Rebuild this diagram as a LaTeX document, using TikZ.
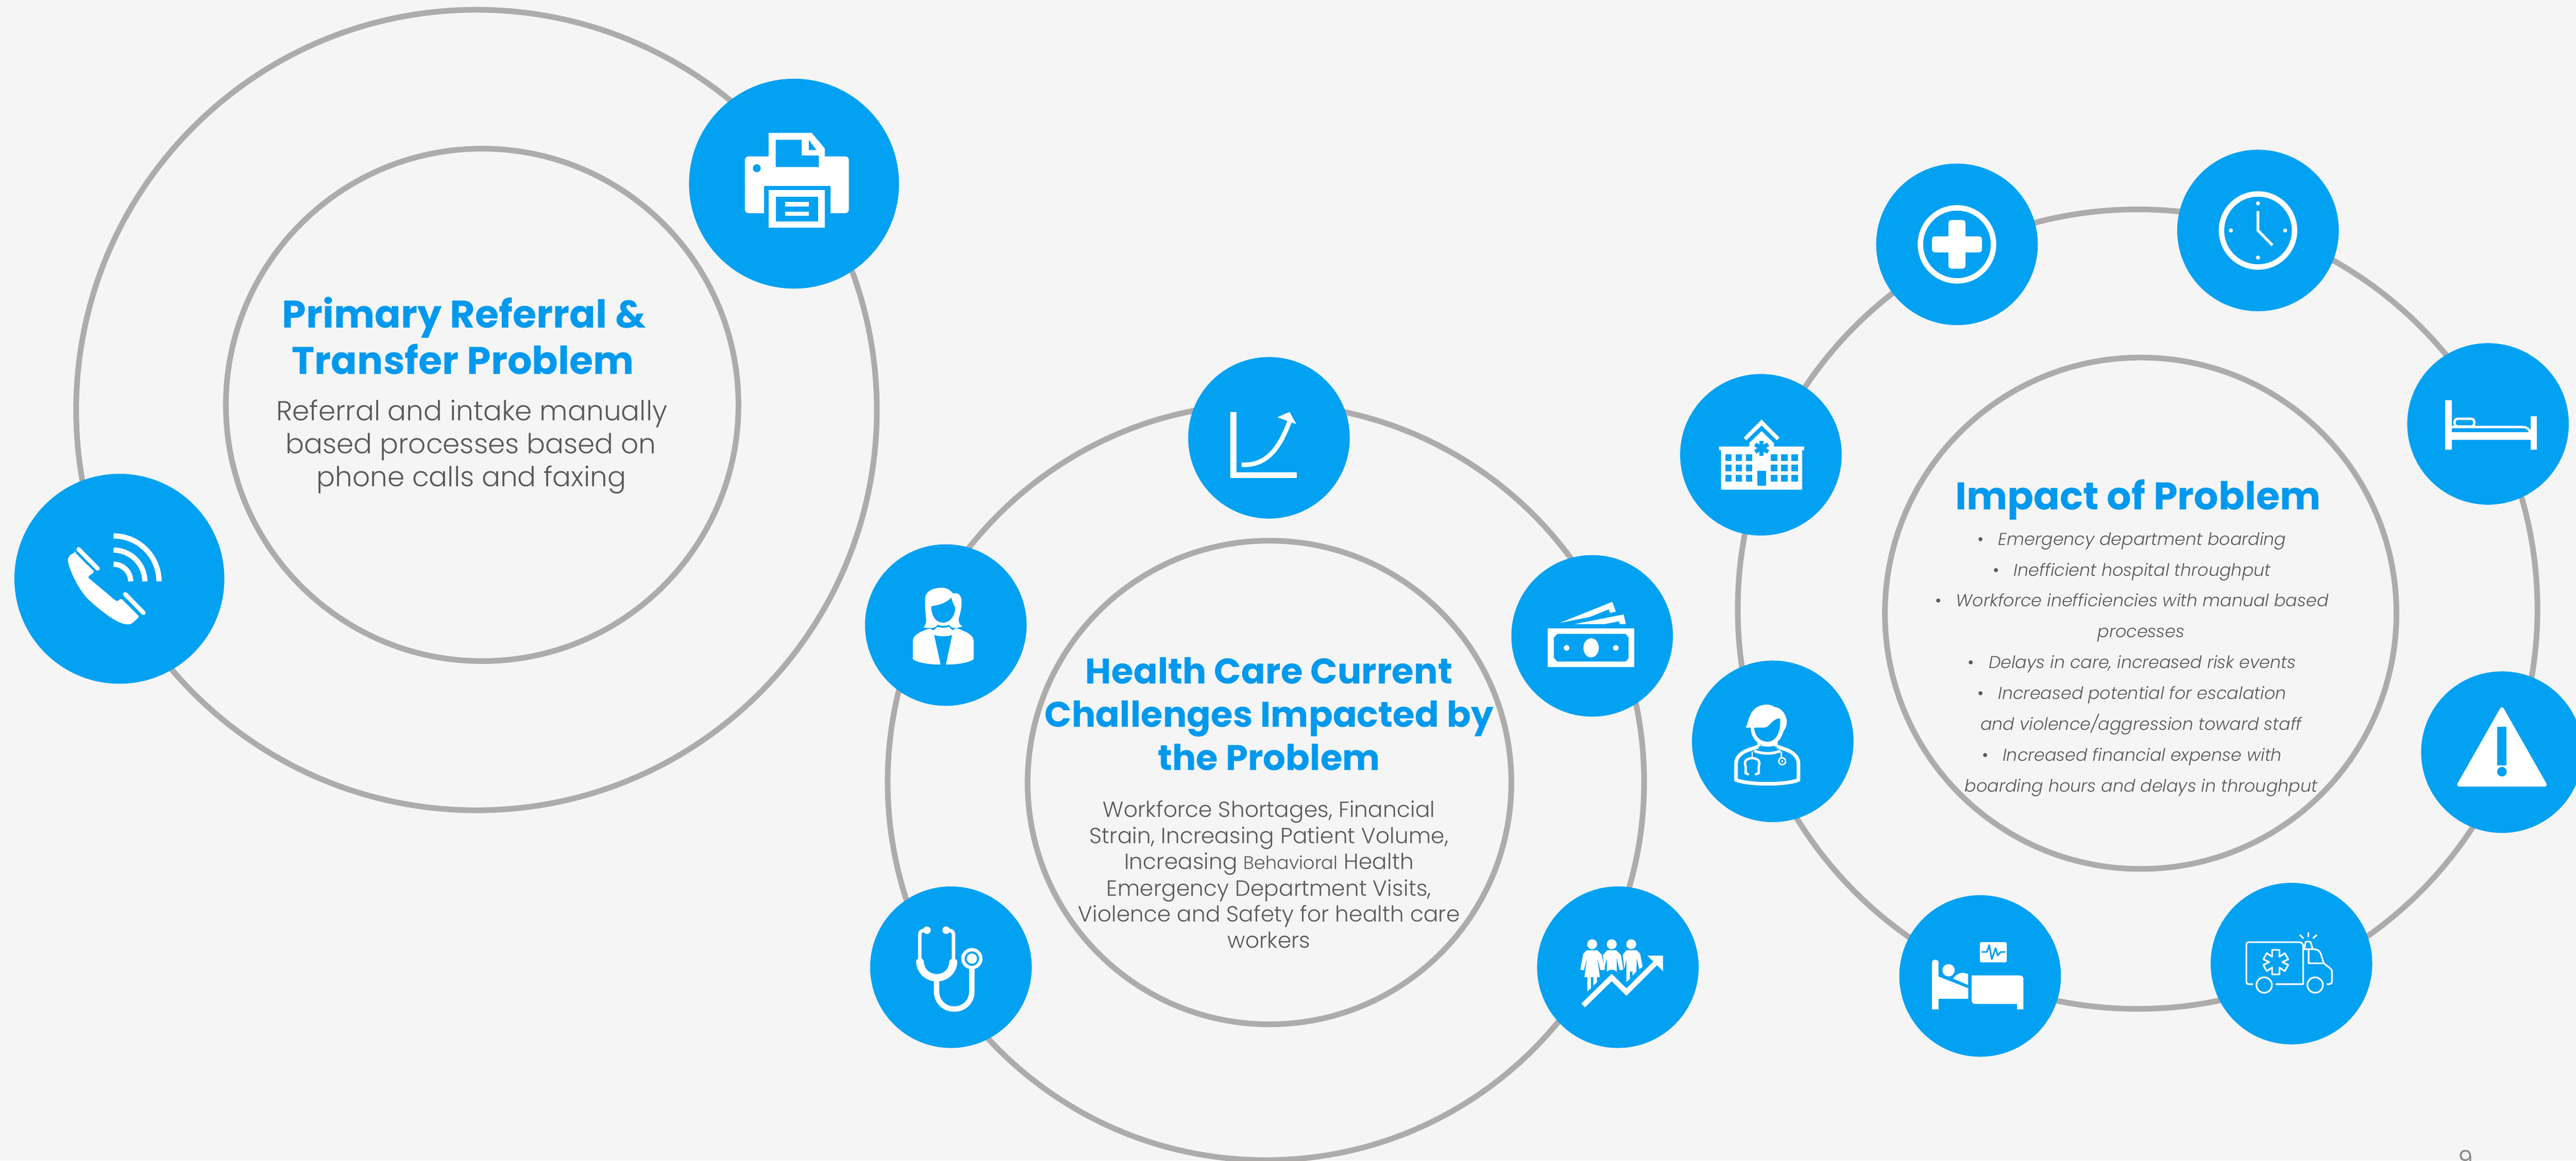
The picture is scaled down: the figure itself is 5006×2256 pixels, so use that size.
\documentclass[tikz,border=0pt]{standalone}
\usepackage{fontspec}
\setmainfont{Poppins Light}[ItalicFont={Poppins Light Italic},BoldFont={Poppins Bold}]
\newfontfamily\popreg{Poppins}
\definecolor{bgc}{HTML}{F5F5F5}
\definecolor{ib}{HTML}{03A1F2}
\definecolor{hb}{HTML}{0099EE}
\definecolor{rg}{HTML}{ADACAB}
\definecolor{tx}{HTML}{595959}
\tikzset{
 ringc/.style={circle,draw=rg,line width=1.1mm,inner sep=0pt,outer sep=0pt,minimum size=#1},
 diskc/.style={circle,fill=ib,inner sep=0pt,outer sep=0pt,minimum size=#1},
 iconat/.style 2 args={shift={(#1,#2)},x=0.033333mm,y=-0.033333mm,shift={(-480,-480)}},
 hone/.style={anchor=base,inner sep=0pt,text=hb,font=\fontsize{21.3}{25}\selectfont\bfseries},
 htwo/.style={anchor=base,inner sep=0pt,text=hb,font=\fontsize{19.7}{25}\selectfont\bfseries},
 bone/.style={anchor=base,inner sep=0pt,text=tx,font=\fontsize{15.2}{20}\selectfont},
 btwo/.style={anchor=base,inner sep=0pt,text=tx,font=\fontsize{12.1}{18}\selectfont},
 bthr/.style={anchor=base,inner sep=0pt,text=tx,font=\fontsize{9.5}{14}\selectfont\itshape},
}
\newcommand{\bul}{{\upshape •}\hspace{2.8mm}}
\begin{document}
\begin{tikzpicture}[x=0.1mm,y=-0.1mm]
\useasboundingbox (0,0) rectangle (5006,2256);
\clip (0,0) rectangle (5006,2256);
\fill[bgc] (0,0) rectangle (5006,2256);
% rings
\node[ringc=155.6mm] (r1o) at (926,797) {};
\node[ringc=99.6mm] (r1i) at (937,787) {};
\node[ringc=147mm] (r2o) at (2460,1520) {};
\node[ringc=94mm] (r2i) at (2467,1521) {};
\node[ringc=155.4mm] (r3o) at (4154,1184) {};
\node[ringc=99.4mm] (r3i) at (4160,1192) {};
% disks
\node[diskc=40.8mm] (printer) at (1543,357) {};
\node[diskc=40.8mm] (phone) at (232,1125) {};
\node[diskc=31.4mm] (chart) at (2466,851) {};
\node[diskc=31.4mm] (woman) at (1838,1215) {};
\node[diskc=31.4mm] (money) at (3094,1236) {};
\node[diskc=31.4mm] (steth) at (1848,1880) {};
\node[diskc=31.4mm] (people) at (3144,1880) {};
\node[diskc=31.4mm] (plus) at (3803,475) {};
\node[diskc=31.4mm] (clock) at (4388,448) {};
\node[diskc=31.4mm] (bed) at (4835,824) {};
\node[diskc=31.4mm] (warn) at (4862,1462) {};
\node[diskc=31.4mm] (amb) at (4453,1873) {};
\node[diskc=31.4mm] (patient) at (3848,1897) {};
\node[diskc=31.4mm] (doctor) at (3445,1441) {};
\node[diskc=31.4mm] (hospital) at (3422,884) {};
% printer
\begin{scope}[iconat={1543}{357}]
\fill[white,rounded corners=2pt] (194,321) rectangle (800,652);
\fill[white] (332,184) -- (583,184) -- (659,274) -- (659,383) -- (332,383) -- cycle;
\fill[ib] (373,224) -- (525,224) -- (525,316) -- (625,316) -- (625,383) -- (373,383) -- cycle;
\fill[ib] (566,224) -- (566,284) -- (611,284) -- cycle;
\fill[ib] (263,390) circle[radius=23];
\fill[ib] (304,492) rectangle (694,660);
\fill[white] (332,517) rectangle (659,736);
\fill[ib] (373,557) rectangle (621,701);
\fill[white] (428,587) rectangle (566,612);
\fill[white] (428,642) rectangle (566,667);
\end{scope}
% phone
\begin{scope}[iconat={232}{1125}]
\fill[white,rounded corners=1pt] (222,328) -- (335,440) -- (294,470) -- (466,614) -- (490,594) -- (597,701) -- (549,744) .. controls (500,750) and (439,726) .. (301,602) .. controls (250,550) and (198,453) .. (180,378) .. controls (180,350) and (200,335) .. cycle;
\draw[white,line width=2.4pt,line cap=round] (242,308) -- (353,420);
\draw[white,line width=2.4pt,line cap=round] (514,570) -- (621,679);
\foreach \R in {100,182,265}{
 \draw[white,line width=2.9pt] (446,495-\R) .. controls (446+.55*\R,495-\R) and (446+\R,495-.55*\R) .. (446+\R,495);
}
\end{scope}
% chart
\begin{scope}[iconat={2466}{851}]
\draw[white,line width=3.3pt] (272,329) -- (272,698) -- (643,698);
\draw[white,line width=2.5pt] (321,637) .. controls (486,646) and (552,508) .. (600,385);
\fill[white] (600,329) -- (639,400) -- (529,360) -- cycle;
\end{scope}
% woman
\begin{scope}[iconat={1838}{1215}]
\fill[white] (360,320) .. controls (365,275) and (420,262) .. (455,262) .. controls (490,262) and (510,280) .. (522,296) .. controls (540,290) and (570,295) .. (572,340) .. controls (574,385) and (558,430) .. (555,445) .. controls (555,470) and (565,483) .. (578,488) .. controls (560,495) and (545,495) .. (530,497) .. controls (515,495) and (505,490) .. (500,478) .. controls (480,486) and (450,486) .. (432,478) .. controls (425,490) and (410,497) .. (395,497) -- (350,495) .. controls (362,480) and (368,465) .. (365,440) .. controls (360,400) and (358,360) .. (360,320) -- cycle;
\fill[ib] (395,370) .. controls (440,365) and (485,350) .. (512,320) .. controls (518,345) and (525,360) .. (535,378) .. controls (535,430) and (500,466) .. (465,466) .. controls (425,466) and (395,430) .. (395,370) -- cycle;
\fill[white] (288,570) .. controls (290,535) and (340,515) .. (385,500) .. controls (395,505) and (400,508) .. (408,510) .. controls (418,505) and (425,498) .. (430,490) .. controls (450,497) and (480,497) .. (498,490) .. controls (503,498) and (512,505) .. (522,510) -- (540,497) .. controls (590,515) and (640,535) .. (642,570) -- (642,680) .. controls (600,705) and (530,710) .. (480,710) -- (450,710) .. controls (380,710) and (320,700) .. (288,680) -- cycle;
\fill[ib] (412,538) .. controls (440,548) and (490,548) .. (517,538) -- (480,712) -- (450,712) -- cycle;
\end{scope}
% money
\begin{scope}[iconat={3094}{1236}]
\fill[white] (222,436) rectangle (726,663);
\fill[ib] (278,468) -- (674,468) -- (692,488) -- (692,612) -- (674,630) -- (278,630) -- (257,608) -- (257,490) -- cycle;
\fill[white] (474,550) ellipse[x radius=45,y radius=56];
\fill[white] (331,550) circle[radius=17];
\fill[white] (618,550) circle[radius=17];
\fill[white] (292,404) -- (597,282) -- (618,338) -- (585,346) -- (577,325) -- (465,370) -- cycle;
\fill[white] (378,411) -- (664,355) -- (676,411) -- (642,411) -- (637,395) -- (555,411) -- cycle;
\end{scope}
% people
\begin{scope}[iconat={3144}{1880}]
\fill[white] (330,346) circle[radius=29];
\fill[white] (444,346) circle[radius=29];
\fill[white] (558,346) circle[radius=29];
\fill[white] (262,490) -- (278,402) -- (300,381) -- (360,381) -- (384,405) -- (405,490) -- (398,497) -- (378,497) -- (360,425) -- (375,538) -- (358,538) -- (358,568) -- (337,587) -- (337,538) -- (323,538) -- (323,603) -- (302,622) -- (302,538) -- (285,538) -- (300,425) -- (282,497) -- (266,497) -- cycle;
\fill[white] (392,410) -- (418,381) -- (470,381) -- (497,408) -- (512,490) -- (505,497) -- (490,497) -- (473,425) -- (474,508) .. controls (460,490) and (428,490) .. (415,508) -- (416,425) -- (400,490) -- (396,440) -- cycle;
\fill[white] (508,408) -- (530,381) -- (590,381) -- (610,402) -- (624,478) -- (605,492) -- (590,428) -- (588,505) -- (565,530) -- (565,505) -- (550,505) -- (550,547) -- (530,567) -- (530,430) -- (518,490) -- cycle;
\draw[white,line width=2.9pt] (278,703) -- (444,540) -- (530,625) -- (700,455);
\fill[white] (653,413) -- (743,413) -- (743,503) -- cycle;
\end{scope}
% stethoscope
\begin{scope}[iconat={1848}{1880}]
\draw[white,line width=1.9pt] (298,440) -- (298,290) .. controls (298,272) and (310,265) .. (330,264);
\draw[white,line width=1.9pt] (495,440) -- (495,290) .. controls (495,272) and (483,265) .. (460,264);
\fill[white] (340,264) circle[radius=22];
\fill[white] (452,264) circle[radius=22];
\fill[white] (277,445) .. controls (280,425) and (315,420) .. (322,445) .. controls (322,490) and (355,520) .. (397,520) .. controls (440,520) and (470,490) .. (470,445) .. controls (480,422) and (510,425) .. (517,445) .. controls (517,510) and (465,563) .. (397,563) .. controls (330,563) and (277,510) .. (277,445) -- cycle;
\draw[white,line width=3pt] (396,550) -- (396,620) .. controls (396,680) and (440,724) .. (499,724) .. controls (558,724) and (602,680) .. (602,620) -- (602,480);
\fill[white] (602,430) circle[radius=62];
\fill[ib] (602,430) circle[radius=42];
\fill[white] (602,430) circle[radius=30];
\end{scope}
% hospital
\begin{scope}[iconat={3422}{884}]
\fill[white] (380,380) -- (484,275) -- (588,380) -- (573,395) -- (484,309) -- (395,395) -- cycle;
\fill[white] (412,412) -- (484,342) -- (556,412) -- (556,432) -- (732,432) -- (732,453) -- (720,453) -- (720,683) -- (248,683) -- (248,453) -- (236,453) -- (236,432) -- (412,432) -- cycle;
\foreach \cx in {272,332,392,537,598,658}{\foreach \cy in {477,537,597}{
 \fill[ib] (\cx,\cy) rectangle (\cx+38,\cy+39);}}
\fill[ib] (458,573) rectangle (510,660);
\foreach \a in {0,60,120}{\fill[ib,rotate around={\a:(484,441)}] (472,398) rectangle (496,485);}
\end{scope}
% doctor
\begin{scope}[iconat={3445}{1441}]
\fill[white] (322,400) .. controls (340,370) and (340,300) .. (400,275) .. controls (430,262) and (470,262) .. (490,280) .. controls (530,280) and (565,330) .. (562,375) .. controls (560,395) and (550,410) .. (543,420) .. controls (535,450) and (520,470) .. (508,483) -- (510,510) -- (390,510) -- (390,485) .. controls (370,470) and (352,440) .. (352,400) -- cycle;
\fill[ib] (372,400) -- (430,400) .. controls (465,400) and (475,345) .. (522,347) .. controls (530,420) and (500,482) .. (450,482) .. controls (400,482) and (372,440) .. (372,400) -- cycle;
\fill[ib] (408,498) .. controls (440,505) and (465,505) .. (490,498) -- (490,525) -- (408,525) -- cycle;
\draw[white,line width=1.5pt] (412,497) .. controls (440,505) and (465,505) .. (488,497);
\draw[white,line width=2pt,line join=round] (396,510) -- (330,533) .. controls (285,552) and (266,580) .. (266,610) -- (266,705) .. controls (340,735) and (560,735) .. (630,705) -- (630,610) .. controls (630,580) and (610,552) .. (570,533) -- (505,510);
\draw[white,line width=1.5pt] (372,535) .. controls (420,555) and (480,555) .. (525,535);
\draw[white,line width=.7pt] (360,540) -- (360,580);
\draw[white,line width=1.3pt,line cap=round] (335,672) -- (322,665) -- (322,625) .. controls (305,585) and (345,578) .. (360,578) .. controls (375,578) and (415,585) .. (398,625) -- (398,665) -- (382,672);
\draw[white,line width=.7pt] (530,540) -- (530,578);
\draw[white,line width=.8pt] (535,596) circle[radius=20];
\fill[white] (535,596) circle[radius=6];
\end{scope}
% patient
\begin{scope}[iconat={3848}{1897}]
\fill[white] (200,400) .. controls (200,380) and (237,380) .. (237,400) -- (237,483) -- (411,552) -- (411,613) -- (237,613) -- (237,675) -- (200,675) -- cycle;
\fill[white] (296,447) circle[radius=36];
\fill[white] (322,495) .. controls (340,470) and (365,460) .. (385,462) -- (410,468) -- (410,533) -- cycle;
\fill[white] (430,477) -- (710,477) .. controls (725,477) and (732,487) .. (732,497) -- (732,675) -- (695,675) -- (695,643) -- (450,643) .. controls (435,643) and (430,630) .. (430,620) -- cycle;
\fill[white,rounded corners=.8pt] (479,283) rectangle (635,401);
\draw[ib,line width=.9pt,line cap=round,line join=round] (490,340) -- (520,340) -- (533,300) -- (548,382) -- (570,318) -- (583,360) -- (600,340) -- (624,340);
\end{scope}
% ambulance
\begin{scope}[iconat={4453}{1873},white,line width=.9pt,line join=round]
\draw (255,600) -- (232,600) .. controls (222,600) and (217,595) .. (217,585) -- (217,372) .. controls (217,362) and (222,355) .. (232,355) -- (525,355) .. controls (538,355) and (548,365) .. (548,375) -- (548,600) -- (388,600);
\draw (367,400) -- (410,400) -- (410,440) -- (441,419) -- (461,455) -- (427,471) -- (461,488) -- (441,524) -- (410,503) -- (410,543) -- (367,543) -- (367,503) -- (336,524) -- (316,488) -- (350,471) -- (316,455) -- (336,419) -- (367,440) -- cycle;
\draw (321,605) circle[radius=45];
\draw (618,605) circle[radius=45];
\draw (548,396) -- (610,396) .. controls (630,396) and (645,405) .. (652,425) -- (668,478) -- (580,478) -- (580,396);
\draw (668,478) -- (705,507) .. controls (713,513) and (716,518) .. (716,525) -- (716,585) .. controls (716,595) and (708,600) .. (700,600) -- (685,600);
\draw (555,392) -- (563,352) -- (590,352) -- (603,392);
\draw (578,298) -- (578,326);
\draw (528,312) -- (550,333);
\draw (628,312) -- (605,333);
\end{scope}
% plus
\begin{scope}[iconat={3803}{475}]
\draw[white,line width=3pt] (480,480) circle[radius=213];
\fill[white,rounded corners=1.6pt] (334,433) rectangle (626,527);
\fill[white,rounded corners=1.6pt] (430,338) rectangle (530,622);
\end{scope}
% clock
\begin{scope}[iconat={4388}{448}]
\draw[white,line width=3pt] (480,480) circle[radius=213];
\fill[white] (480,322) circle[radius=12];
\fill[white] (480,638) circle[radius=12];
\fill[white] (322,480) circle[radius=12];
\fill[white] (638,480) circle[radius=12];
\draw[white,line width=1.5pt] (480,366) -- (480,480) -- (564,566);
\end{scope}
% bed
\begin{scope}[iconat={4835}{824}]
\fill[white] (231,342) rectangle (268,631);
\fill[white] (729,435) rectangle (766,631);
\fill[white] (268,528) rectangle (729,573);
\draw[white,line width=1.3pt,rounded corners=1.6pt] (285,450) rectangle (400,495);
\draw[white,line width=1.3pt] (268,498) -- (680,498) .. controls (705,498) and (722,510) .. (725,530);
\end{scope}
% warning
\begin{scope}[iconat={4862}{1462}]
\fill[white,draw=white,line width=2pt,line join=round] (480,228) -- (731,670) -- (229,670) -- cycle;
\fill[ib] (453,332) rectangle (507,556);
\fill[ib] (480,594) circle[radius=28];
\end{scope}
% texts
\node[hone] (a1) at (902,637) {Primary Referral \&};
\node[hone] (a2) at (900,727) {Transfer Problem};
\node[bone] (a3) at (917,817) {Referral and intake manually};
\node[bone] (a4) at (915,882) {based processes based on};
\node[bone] (a5) at (916,946) {phone calls and faxing};
\node[htwo] (b1) at (2466,1329) {Health Care Current};
\node[htwo] (b2) at (2466,1413) {Challenges Impacted by};
\node[htwo] (b3) at (2466,1497) {the Problem};
\node[btwo] (b4) at (2466,1588) {Workforce Shortages, Financial};
\node[btwo] (b5) at (2466,1639) {Strain, Increasing Patient Volume,};
\node[btwo] (b6) at (2466,1690) {Increasing {\fontsize{10}{14}\selectfont Behavioral} Health};
\node[btwo] (b7) at (2466,1742) {Emergency Department Visits,};
\node[btwo] (b8) at (2466,1792) {Violence and Safety for health care};
\node[btwo] (b9) at (2466,1843) {workers};
\node[hone] (c1) at (4155,991) {Impact of Problem};
\node[bthr] (c2) at (4143,1060) {\bul Emergency department boarding};
\node[bthr] (c3) at (4143,1120) {\bul Inefficient hospital throughput};
\node[bthr] (c4) at (4143,1179) {\bul Workforce inefficiencies with manual based};
\node[bthr] (c5) at (4161,1239) {processes};
\node[bthr] (c6) at (4143,1299) {\bul Delays in care, increased risk events};
\node[bthr] (c7) at (4143,1359) {\bul Increased potential for escalation};
\node[bthr] (c8) at (4161,1419) {and violence/aggression toward staff};
\node[bthr] (c9) at (4143,1479) {\bul Increased financial expense with};
\node[bthr] (c10) at (4161,1539) {boarding hours and delays in throughput};
\node[anchor=base,inner sep=0pt,text=gray!90,font=\fontsize{13}{16}\selectfont\popreg] (pg) at (4792,2269) {9};
\end{tikzpicture}
\end{document}
